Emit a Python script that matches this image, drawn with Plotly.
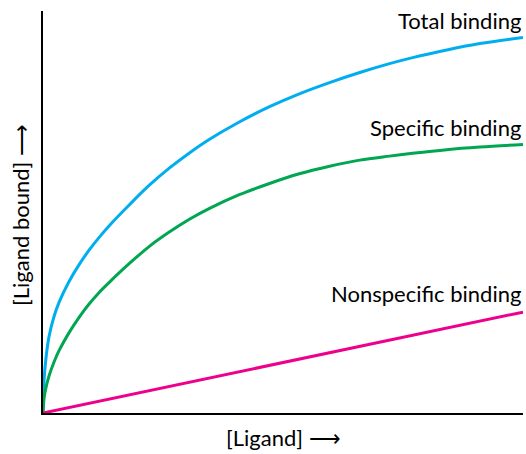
import plotly.graph_objects as go

# ligand concentration (arbitrary units) and amount bound
ligand = [0, 0.021, 0.056, 0.125, 0.23, 0.334, 0.543, 0.752, 0.96, 1.17, 1.38,
          1.80, 2.21, 2.63, 3.05, 3.47, 4.09, 4.72, 5.34, 5.97, 6.60, 7.22,
          7.70, 8.41, 9.10, 10.0]
total_bound = [0, 8.0, 13.0, 19.0, 24.0, 27.5, 32.7, 36.9, 40.5, 43.7, 46.6,
               51.8, 56.6, 60.9, 64.7, 68.1, 72.4, 76.2, 79.4, 82.2, 84.7, 86.9,
               88.4, 90.3, 91.9, 93.4]
specific_bound = [0, 3.6, 6.0, 9.2, 12.7, 15.5, 20.0, 23.8, 27.1, 30.0, 32.5,
                  37.2, 41.4, 45.0, 48.2, 50.9, 54.3, 57.1, 59.5, 61.4, 62.9, 63.9,
                  64.6, 65.5, 66.15, 66.8]
nonspecific_x = [0, 10]
nonspecific_bound = [0, 25.1]

labels = ["Total binding", "Specific binding", "Nonspecific binding"]
label_y = [97.6, 71.1, 29.7]

FONT = "Lato"
FS = 22

fig = go.Figure()
fig.add_trace(go.Scatter(x=ligand, y=total_bound, mode="lines",
                         line=dict(color="#00AEEF", width=3, shape="spline", smoothing=1)))
fig.add_trace(go.Scatter(x=ligand, y=specific_bound, mode="lines",
                         line=dict(color="#00A651", width=3, shape="spline", smoothing=1)))
fig.add_trace(go.Scatter(x=nonspecific_x, y=nonspecific_bound, mode="lines",
                         line=dict(color="#EC008C", width=3)))

for txt, yy in zip(labels, label_y):
    fig.add_annotation(x=10, y=yy, text=txt, showarrow=False, xanchor="right",
                       yanchor="middle", font=dict(family=FONT, size=FS, color="black"))

# axis titles
fig.add_annotation(xref="paper", yref="paper", x=-0.048, y=0.4925, text="[Ligand bound] ⟶",
                   textangle=-90, showarrow=False, xanchor="center", yanchor="middle",
                   font=dict(family=FONT, size=FS, color="black"))
fig.add_annotation(xref="paper", yref="paper", x=0.502, y=-0.062, text="[Ligand] ⟶",
                   showarrow=False, xanchor="center", yanchor="middle",
                   font=dict(family=FONT, size=FS, color="black"))

fig.update_xaxes(range=[0, 10], showgrid=False, zeroline=False, showticklabels=False,
                 ticks="", showline=True, linecolor="black", linewidth=1.5)
fig.update_yaxes(range=[0, 100], showgrid=False, zeroline=False, showticklabels=False,
                 ticks="", showline=True, linecolor="black", linewidth=1.5)
fig.update_layout(width=526, height=454, showlegend=False,
                  margin=dict(l=43, r=3, t=11, b=41),
                  plot_bgcolor="white", paper_bgcolor="white")

fig.write_html("out.html", config={"displayModeBar": False},
               post_script="document.body.style.margin='0';")
